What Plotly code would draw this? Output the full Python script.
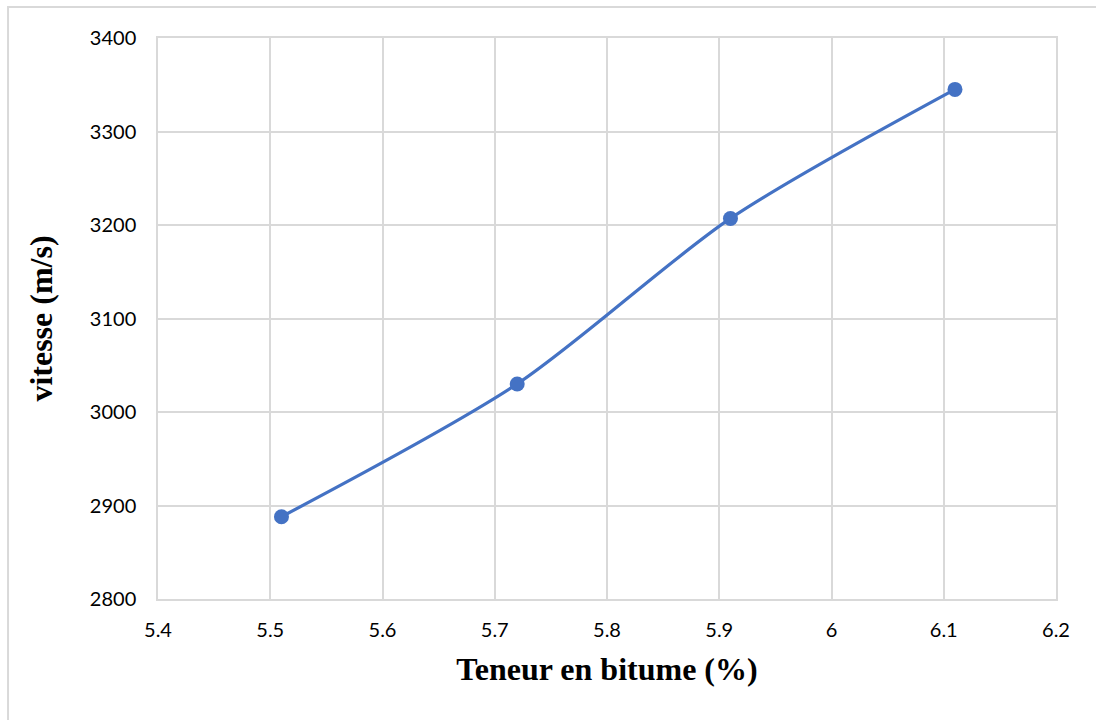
import plotly.graph_objects as go

# Bitumen content (%) vs. ultrasonic pulse velocity (m/s)
teneur_bitume = [5.51, 5.72, 5.91, 6.11]
vitesse = [2888, 3030, 3207, 3345]

x_ticks = [5.4, 5.5, 5.6, 5.7, 5.8, 5.9, 6.0, 6.1, 6.2]
x_tick_labels = ["5.4", "5.5", "5.6", "5.7", "5.8", "5.9", "6", "6.1", "6.2"]
y_ticks = [2800, 2900, 3000, 3100, 3200, 3300, 3400]

BLUE = "#4472C4"
GRID = "#d9d9d9"

fig = go.Figure()
fig.add_trace(go.Scatter(
    x=teneur_bitume,
    y=vitesse,
    mode="lines+markers",
    line=dict(color=BLUE, width=3.2, shape="spline", smoothing=0.8),
    marker=dict(color=BLUE, size=15),
    showlegend=False,
))

tick_font = dict(family="Lato, Open Sans, sans-serif", size=20, color="#000000")
title_font = dict(family="Liberation Serif, Times New Roman, serif", size=32, color="#000000")

fig.update_xaxes(
    range=[5.4, 6.2],
    tickvals=x_ticks,
    ticktext=x_tick_labels,
    showgrid=True, gridcolor=GRID, gridwidth=1.5,
    showline=True, linecolor=GRID, linewidth=1.5, mirror=True,
    zeroline=False,
    ticks="outside", ticklen=12, tickcolor="rgba(0,0,0,0)",
    tickfont=tick_font,
    title=dict(text="<b>Teneur en bitume (%)</b>", font=title_font, standoff=18),
)
fig.update_yaxes(
    range=[2800, 3400],
    tickvals=y_ticks,
    showgrid=True, gridcolor=GRID, gridwidth=1.5,
    showline=True, linecolor=GRID, linewidth=1.5, mirror=True,
    zeroline=False,
    ticks="outside", ticklen=16, tickcolor="rgba(0,0,0,0)",
    tickfont=tick_font,
    title=dict(text="<b>vitesse (m/s)</b>", font=title_font, standoff=28),
)

# Outer chart frame
fig.add_shape(
    type="rect", xref="paper", yref="paper",
    x0=-0.167, x1=1.2, y0=-0.4, y1=1.0553,
    line=dict(color=GRID, width=2), fillcolor="rgba(0,0,0,0)", layer="below",
)

fig.update_layout(
    width=1096, height=720,
    margin=dict(l=158, r=40, t=38, b=121),
    paper_bgcolor="white", plot_bgcolor="white",
)

fig.write_html("out.html")
